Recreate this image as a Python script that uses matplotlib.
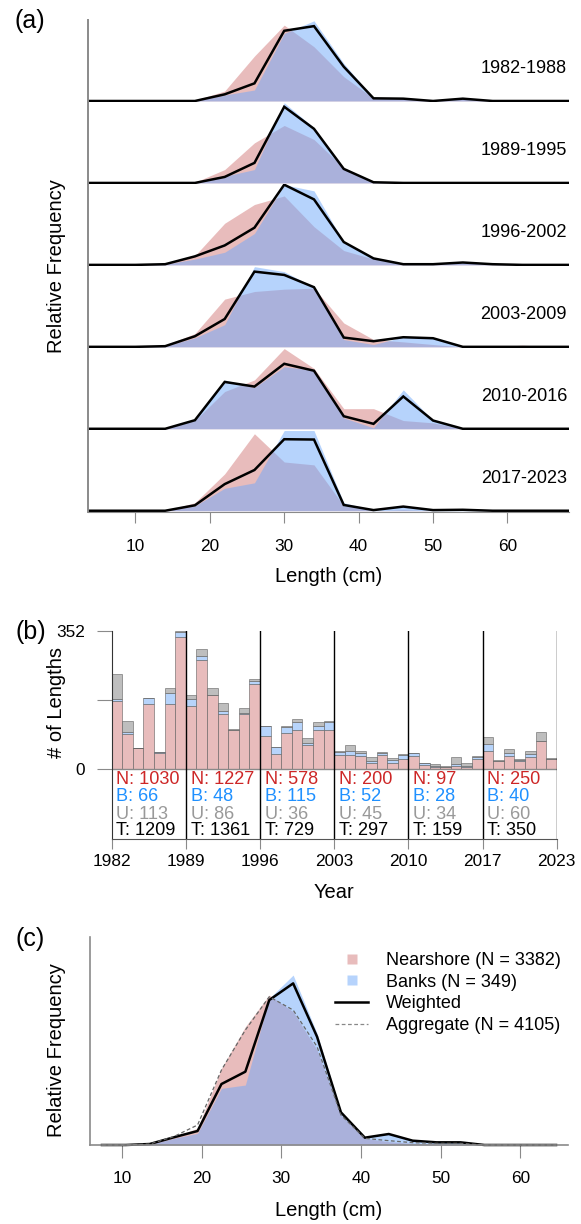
import numpy as np
import matplotlib
matplotlib.use("Agg")
import matplotlib.pyplot as plt
from matplotlib.lines import Line2D

plt.rcParams['font.family'] = ['Liberation Sans', 'DejaVu Sans']

# ---- panel (a): length compositions by period (4 cm bins) ----
len_a = np.arange(2, 71, 4)
periods = ['1982-1988', '1989-1995', '1996-2002', '2003-2009', '2010-2016', '2017-2023']

ns_a = [
    [0, 0, 0, 0, 2, 30, 135, 228, 163, 73, 8, 7, 0, 5, 0, 0, 0, 0],
    [0, 0, 0, 0, 2, 40, 120, 172, 130, 45, 2, 0, 0, 0, 0, 0, 0, 0],
    [0, 0, 0, 2, 27, 122, 177, 202, 112, 42, 17, 2, 2, 5, 2, 0, 0, 0],
    [0, 0, 0, 5, 40, 144, 167, 174, 177, 72, 22, 15, 7, 0, 0, 5, 0, 0],
    [0, 0, 0, 0, 25, 113, 148, 243, 183, 61, 61, 25, 18, 0, 0, 0, 0, 0],
    [0, 0, 0, 0, 25, 115, 240, 152, 143, 15, 0, 3, 0, 0, 0, 0, 0, 0],
]
bk_a = [
    [0, 0, 0, 0, 0, 18, 33, 203, 241, 113, 8, 7, 0, 7, 0, 0, 0, 0],
    [0, 0, 0, 0, 0, 20, 40, 240, 165, 45, 2, 0, 0, 0, 0, 0, 0, 0],
    [0, 0, 0, 2, 17, 37, 92, 235, 217, 67, 19, 2, 2, 7, 2, 0, 0, 0],
    [0, 0, 0, 2, 27, 67, 242, 227, 180, 22, 7, 30, 27, 0, 0, 0, 0, 0],
    [0, 0, 0, 0, 26, 148, 125, 188, 178, 33, 3, 118, 25, 0, 0, 0, 0, 0],
    [0, 0, 0, 0, 15, 70, 87, 250, 250, 25, 2, 15, 2, 3, 0, 0, 0, 0],
]
wt_a = [
    [0, 0, 0, 0, 0, 20, 53, 211, 225, 103, 8, 7, 0, 7, 0, 0, 0, 0],
    [0, 0, 0, 0, 0, 18, 60, 228, 162, 42, 2, 0, 0, 0, 0, 0, 0, 0],
    [0, 0, 0, 2, 25, 57, 109, 235, 192, 67, 19, 2, 2, 7, 2, 0, 0, 0],
    [0, 0, 0, 2, 32, 84, 227, 217, 180, 28, 17, 29, 26, 0, 0, 0, 0, 0],
    [0, 0, 0, 0, 26, 142, 128, 197, 176, 38, 15, 98, 25, 0, 0, 0, 0, 0],
    [0, 0, 0, 0, 17, 83, 127, 223, 222, 18, 2, 13, 2, 3, 0, 0, 0, 0],
]

# ---- panel (b): number of lengths per year ----
years = np.arange(1982, 2024)
ns_b = [175, 90, 53, 167, 42, 166, 337,
        162, 279, 188, 141, 99, 141, 217,
        84, 38, 93, 101, 62, 100, 100,
        37, 37, 33, 16, 36, 15, 26,
        33, 12, 7, 5, 8, 7, 25,
        46, 20, 34, 20, 31, 73, 26]
bk_b = [5, 6, 0, 14, 2, 27, 12,
        18, 9, 2, 7, 2, 2, 8,
        26, 20, 14, 19, 4, 11, 21,
        6, 9, 8, 6, 5, 8, 10,
        8, 3, 2, 2, 5, 2, 6,
        19, 2, 7, 4, 7, 0, 1]
un_b = [63, 28, 2, 1, 1, 14, 4,
        8, 18, 17, 22, 2, 13, 6,
        0, 0, 3, 7, 14, 9, 3,
        4, 15, 6, 9, 2, 6, 3,
        0, 1, 4, 2, 18, 6, 3,
        17, 2, 10, 1, 8, 21, 1]
period_starts = [1982, 1989, 1996, 2003, 2010, 2017]
year_ticks = [1982, 1989, 1996, 2003, 2010, 2017, 2024]
year_labels = ['1982', '1989', '1996', '2003', '2010', '2017', '2023']

# ---- panel (c): all years combined (3 cm bins) ----
len_c = np.arange(7.5, 65, 3)
ns_c = [0, 0, 3, 25, 50, 230, 355, 450, 400, 285, 90, 20, 10, 5, 3, 2, 0, 0, 0, 0]
bk_c = [0, 0, 2, 20, 35, 170, 180, 440, 510, 335, 100, 25, 35, 15, 10, 10, 0, 0, 0, 0]
wt_c = [0, 0, 3, 23, 42, 183, 220, 435, 485, 325, 98, 22, 33, 13, 8, 8, 0, 0, 0, 0]
ag_c = [0, 0, 3, 25, 60, 225, 345, 445, 405, 295, 90, 20, 13, 7, 5, 5, 0, 0, 0, 0]
n_ns, n_bk, n_ag = 3382, 349, 4105

NS_FILL = (0.78, 0.35, 0.35, 0.4)
BK_FILL = (0.43, 0.66, 0.98, 0.5)
NS_BAR = '#E8BCBC'
BK_BAR = '#B7D4FB'
UN_BAR = '#BEBEBE'
AX_GRAY = '#8A8A8A'

W, H = 581, 1224
fig = plt.figure(figsize=(W / 100, H / 100), dpi=100)


def box(x0, y0, x1, y1):
    # pixel box (top-left origin) -> figure fraction
    return [x0 / W, 1 - y1 / H, (x1 - x0) / W, (y1 - y0) / H]


# ---------------- (a) ----------------
ph = 81.95
for i in range(6):
    top = 20 + ph * i
    ax = fig.add_axes(box(88.5, top, 568.5, top + ph))
    ax.set_facecolor('none')
    ax.fill_between(len_a, ns_a[i], color=NS_FILL, lw=0)
    ax.fill_between(len_a, bk_a[i], color=BK_FILL, lw=0)
    ax.plot(len_a, wt_a[i], color='black', lw=1.8, solid_joinstyle='miter')
    m = max(max(ns_a[i]), max(bk_a[i]), max(wt_a[i]))
    ax.set_ylim(-0.012 * m, m * 1.01)
    ax.set_xlim(3.7, 68.2)
    ax.set_yticks([])
    for s in ['top', 'right']:
        ax.spines[s].set_visible(False)
    ax.spines['left'].set_color(AX_GRAY)
    ax.spines['left'].set_linewidth(1.4)
    ax.text(0.997, 0.41, periods[i], transform=ax.transAxes, ha='right',
            va='center', fontsize=13)
    if i < 5:
        ax.spines['bottom'].set_visible(False)
        ax.set_xticks([])
    else:
        ax.spines['bottom'].set_color(AX_GRAY)
        ax.set_xticks([10, 20, 30, 40, 50, 60])
        ax.tick_params(axis='x', length=8, color=AX_GRAY, pad=12, labelsize=12.4)

fig.text(30 / W, 1 - 21 / H, '(a)', fontsize=18, ha='center', va='center')
fig.text(57 / W, 1 - 266 / H, 'Relative Frequency', rotation=90, fontsize=14.5,
         ha='center', va='center')
fig.text(328.5 / W, 1 - 577 / H, 'Length (cm)', fontsize=14.5, ha='center', va='center')

# ---------------- (b) ----------------
axb = fig.add_axes(box(111.7, 631, 556.7, 839))
ns_b = np.array(ns_b)
bk_b = np.array(bk_b)
un_b = np.array(un_b)
edge = (0.35, 0.35, 0.35, 0.55)
axb.bar(years, ns_b, width=1, align='edge', color=NS_BAR, edgecolor=edge, lw=0.7)
axb.bar(years, bk_b, bottom=ns_b, width=1, align='edge', color=BK_BAR, edgecolor=edge, lw=0.7)
axb.bar(years, un_b, bottom=ns_b + bk_b, width=1, align='edge', color=UN_BAR,
        edgecolor=edge, lw=0.7)
ylo = -177.4
axb.set_xlim(1982, 2024)
axb.set_ylim(ylo, 352)
axb.axhline(0, color=AX_GRAY, lw=1)
for x in year_ticks[1:]:
    axb.axvline(x, color='black', lw=1)
for s in ['top', 'right']:
    axb.spines[s].set_visible(False)
axb.spines['left'].set_color('#333333')
axb.spines['bottom'].set_color('#555555')
axb.set_yticks([0, 176, 352])
axb.set_yticklabels(['0', '', '352'])
axb.set_xticks(year_ticks)
axb.set_xticklabels(year_labels)
axb.tick_params(axis='y', length=11, color=AX_GRAY, pad=8, labelsize=12.4)
axb.tick_params(axis='x', length=7, color=AX_GRAY, pad=4, labelsize=12.4)

row_y = [-24.7, -70.5, -113.8, -157.0]
for j, x0 in enumerate(period_starts):
    sl = slice(j * 7, j * 7 + 7)
    n, b, u = ns_b[sl].sum(), bk_b[sl].sum(), un_b[sl].sum()
    rows = [('N: %d' % n, '#CD2626'), ('B: %d' % b, '#1E90FF'),
            ('U: %d' % u, '#999999'), ('T: %d' % (n + b + u), 'black')]
    for (txt, col), yy in zip(rows, row_y):
        axb.text(x0 + 0.45, yy, txt, color=col, fontsize=13.1, ha='left', va='center')

fig.text(31 / W, 1 - 632 / H, '(b)', fontsize=18, ha='center', va='center')
fig.text(57 / W, 1 - 703 / H, '# of Lengths', rotation=90, fontsize=14.5,
         ha='center', va='center')
fig.text(334 / W, 1 - 893 / H, 'Year', fontsize=14.5, ha='center', va='center')

# ---------------- (c) ----------------
axc = fig.add_axes(box(90, 937, 568, 1145))
axc.fill_between(len_c, ns_c, color=NS_FILL, lw=0)
axc.fill_between(len_c, bk_c, color=BK_FILL, lw=0)
axc.plot(len_c, wt_c, color='black', lw=1.8, clip_on=False)
axc.plot(len_c, ag_c, color='#666666', lw=0.9, dashes=(3, 2), clip_on=False)
axc.set_xlim(6, 66)
axc.set_ylim(0, max(bk_c) * 1.224)
axc.set_yticks([])
for s in ['top', 'right']:
    axc.spines[s].set_visible(False)
for s in ['left', 'bottom']:
    axc.spines[s].set_color(AX_GRAY)
    axc.spines[s].set_linewidth(1.2)
axc.set_xticks([10, 20, 30, 40, 50, 60])
axc.tick_params(axis='x', length=9, color=AX_GRAY, pad=10, labelsize=12.4)

handles = [
    Line2D([], [], ls='none', marker='s', ms=6.5, mfc=NS_FILL, mec='none'),
    Line2D([], [], ls='none', marker='s', ms=6.5, mfc=BK_FILL, mec='none'),
    Line2D([], [], color='black', lw=1.8),
    Line2D([], [], color='#888888', lw=0.9, dashes=(3, 2)),
]
labels = ['Nearshore (N = %d)' % n_ns, 'Banks (N = %d)' % n_bk, 'Weighted',
          'Aggregate (N = %d)' % n_ag]
fig.legend(handles, labels, loc='upper left', bbox_to_anchor=(335 / W, 1 - 952 / H),
           bbox_transform=fig.transFigure, frameon=False, fontsize=13,
           handlelength=1.85, handletextpad=0.95, labelspacing=0.26,
           borderpad=0, borderaxespad=0)

fig.text(30 / W, 1 - 939 / H, '(c)', fontsize=18, ha='center', va='center')
fig.text(57 / W, 1 - 1050 / H, 'Relative Frequency', rotation=90, fontsize=14.5,
         ha='center', va='center')
fig.text(329 / W, 1 - 1210 / H, 'Length (cm)', fontsize=14.5, ha='center', va='center')

fig.savefig('out.png', dpi=100)
